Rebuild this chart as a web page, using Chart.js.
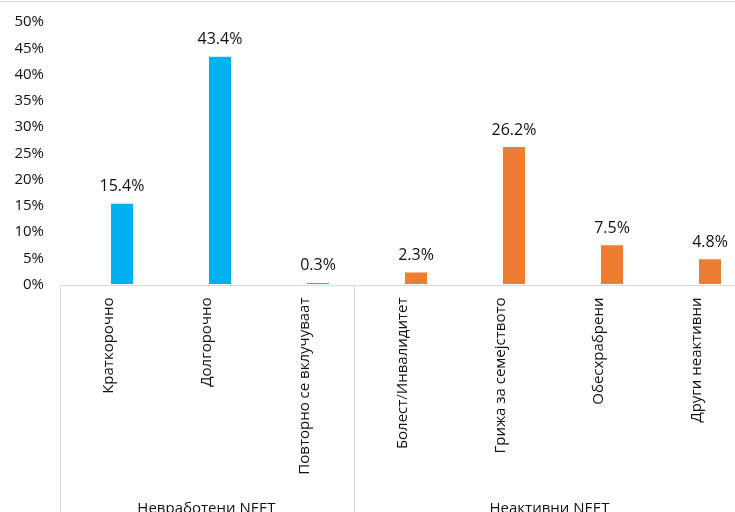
<!DOCTYPE html>
<html lang="mk">
<head>
    <meta charset="UTF-8">
    <title>NEET</title>
    <script src="https://cdn.jsdelivr.net/npm/chart.js"></script>
    <style>
        html, body {
            margin: 0;
            padding: 0;
            background: #fff;
            overflow: hidden;
        }
        #chart-container {
            position: relative;
            width: 760px;
            height: 512px;
        }
    </style>
</head>
<body>
    <div id="chart-container">
        <canvas id="neetChart"></canvas>
    </div>

    <script>
        // categories and shares (%)
        const groupNames = ["Невработени NEET", "Неактивни NEET"];
        const unemployedLabels = ["Краткорочно", "Долгорочно", "Повторно се вклучуваат"];
        const unemployedValues = [15.4, 43.4, 0.3];
        const inactiveLabels = ["Болест/Инвалидитет", "Грижа за семејството", "Обесхрабрени", "Други неактивни"];
        const inactiveValues = [2.3, 26.2, 7.5, 4.8];
        const yTicks = [0, 5, 10, 15, 20, 25, 30, 35, 40, 45, 50];

        const FONT = "'Open Sans', sans-serif";
        const labels = unemployedLabels.concat(inactiveLabels);
        const blueData = unemployedValues.concat(inactiveLabels.map(() => null));
        const orangeData = unemployedLabels.map(() => null).concat(inactiveValues);

        // bars sit a bit right of the category centre, as in the Excel original
        const BAR_SHIFT = 13.5;

        // value labels above the bars
        const valueLabels = {
            id: "valueLabels",
            afterDatasetsDraw(chart) {
                const ctx = chart.ctx;
                ctx.save();
                ctx.font = "16px " + FONT;
                ctx.fillStyle = "#111";
                ctx.textAlign = "center";
                ctx.textBaseline = "bottom";
                chart.data.datasets.forEach((ds, di) => {
                    chart.getDatasetMeta(di).data.forEach((bar, i) => {
                        const v = ds.data[i];
                        if (v == null) return;
                        ctx.fillText(v.toFixed(1) + "%", bar.x, bar.y - 9);
                    });
                });
                ctx.restore();
            }
        };

        // two-level category axis: rotated names, group boxes and group names
        const groupAxis = {
            id: "groupAxis",
            afterDraw(chart) {
                const ctx = chart.ctx;
                const x = chart.scales.x;
                const y0 = chart.scales.y.getPixelForValue(0);
                const step = x.getPixelForValue(1) - x.getPixelForValue(0);
                const center = i => x.getPixelForValue(i) - BAR_SHIFT;
                const edge = i => center(i) - step / 2;
                const H = chart.height;

                ctx.save();
                ctx.strokeStyle = "#d9d9d9";
                ctx.lineWidth = 1;

                // top border line
                ctx.beginPath();
                ctx.moveTo(0, 1.5);
                ctx.lineTo(chart.width, 1.5);
                ctx.stroke();

                // axis line
                ctx.beginPath();
                ctx.moveTo(Math.round(edge(0)), Math.round(y0) + 0.5);
                ctx.lineTo(chart.width, Math.round(y0) + 0.5);
                ctx.stroke();

                // group separators
                const bounds = [0, unemployedLabels.length, labels.length];
                bounds.forEach(b => {
                    const px = Math.round(edge(b)) + 0.5;
                    ctx.beginPath();
                    ctx.moveTo(px, Math.round(y0));
                    ctx.lineTo(px, H);
                    ctx.stroke();
                });

                // category names, rotated
                ctx.fillStyle = "#111";
                ctx.font = "15px " + FONT;
                ctx.textAlign = "right";
                ctx.textBaseline = "middle";
                labels.forEach((lab, i) => {
                    ctx.save();
                    ctx.translate(center(i), y0 + 13);
                    ctx.rotate(-Math.PI / 2);
                    ctx.fillText(lab, 0, 0);
                    ctx.restore();
                });

                // group names
                ctx.textAlign = "center";
                ctx.textBaseline = "alphabetic";
                groupNames.forEach((g, gi) => {
                    const cx = (edge(bounds[gi]) + edge(bounds[gi + 1])) / 2;
                    ctx.fillText(g, cx, H + 1);
                });
                ctx.restore();
            }
        };

        new Chart(document.getElementById("neetChart"), {
            type: "bar",
            data: {
                labels: labels,
                datasets: [{
                    label: groupNames[0],
                    data: blueData,
                    backgroundColor: "#00b0f0",
                    grouped: false,
                    categoryPercentage: 1,
                    barPercentage: 0.225
                }, {
                    label: groupNames[1],
                    data: orangeData,
                    backgroundColor: "#ed7d31",
                    grouped: false,
                    categoryPercentage: 1,
                    barPercentage: 0.225
                }]
            },
            options: {
                responsive: true,
                maintainAspectRatio: false,
                animation: false,
                layout: {
                    padding: { top: 22, bottom: 227.5, left: 0, right: 1 }
                },
                plugins: {
                    legend: { display: false },
                    tooltip: { enabled: false }
                },
                scales: {
                    x: {
                        display: false
                    },
                    y: {
                        min: 0,
                        max: 50,
                        afterFit(scale) { scale.width = 73; },
                        afterBuildTicks(scale) {
                            scale.ticks = yTicks.map(v => ({ value: v }));
                        },
                        // invisible tick marks push the labels left without
                        // adding to the scale's top padding
                        grid: {
                            display: true,
                            drawOnChartArea: false,
                            drawTicks: true,
                            tickLength: 29,
                            tickColor: "rgba(0,0,0,0)"
                        },
                        border: { display: false },
                        ticks: {
                            padding: 0,
                            color: "#111",
                            font: { family: "'Open Sans', sans-serif", size: 15 },
                            callback: v => v + "%"
                        }
                    }
                }
            },
            plugins: [valueLabels, groupAxis]
        });
    </script>
</body>
</html>
